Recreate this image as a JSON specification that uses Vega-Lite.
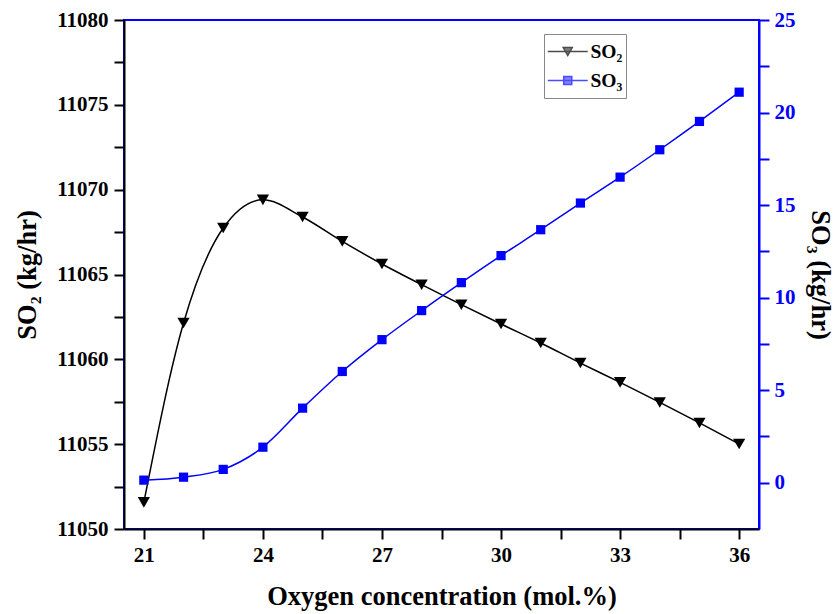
{
  "$schema": "https://vega.github.io/schema/vega-lite/v6.json",
  "width": 635,
  "height": 509,
  "autosize": {"type": "none"},
  "padding": {"left": 124, "top": 20, "right": 76, "bottom": 85},
  "background": "white",
  "config": {
    "view": {"stroke": "#0000ff", "strokeWidth": 2},
    "font": "Liberation Serif",
    "legend": {"symbolBaseFillColor": "black", "symbolBaseStrokeColor": "black"},
    "axis": {
      "labelFont": "Liberation Serif",
      "labelFontWeight": "bold",
      "labelFontSize": 21,
      "titleFont": "Liberation Serif",
      "titleFontWeight": "bold",
      "titleFontSize": 26.5,
      "grid": false,
      "domainWidth": 2,
      "tickWidth": 2,
      "tickSize": 10,
      "labelColor": "black",
      "titleColor": "black",
      "labelOverlap": false
    }
  },
  "datasets": {
    "d": [
      {"x": 21, "series": "SO₂", "value": 11051.57},
      {"x": 22, "series": "SO₂", "value": 11062.14},
      {"x": 23, "series": "SO₂", "value": 11067.74},
      {"x": 24, "series": "SO₂", "value": 11069.40},
      {"x": 25, "series": "SO₂", "value": 11068.39},
      {"x": 26, "series": "SO₂", "value": 11066.95},
      {"x": 27, "series": "SO₂", "value": 11065.62},
      {"x": 28, "series": "SO₂", "value": 11064.40},
      {"x": 29, "series": "SO₂", "value": 11063.22},
      {"x": 30, "series": "SO₂", "value": 11062.08},
      {"x": 31, "series": "SO₂", "value": 11060.96},
      {"x": 32, "series": "SO₂", "value": 11059.78},
      {"x": 33, "series": "SO₂", "value": 11058.64},
      {"x": 34, "series": "SO₂", "value": 11057.46},
      {"x": 35, "series": "SO₂", "value": 11056.25},
      {"x": 36, "series": "SO₂", "value": 11055.01},
      {"x": 21, "series": "SO₃", "value": 0.14},
      {"x": 22, "series": "SO₃", "value": 0.30},
      {"x": 23, "series": "SO₃", "value": 0.72},
      {"x": 24, "series": "SO₃", "value": 1.92},
      {"x": 25, "series": "SO₃", "value": 4.03},
      {"x": 26, "series": "SO₃", "value": 6.01},
      {"x": 27, "series": "SO₃", "value": 7.73},
      {"x": 28, "series": "SO₃", "value": 9.30},
      {"x": 29, "series": "SO₃", "value": 10.81},
      {"x": 30, "series": "SO₃", "value": 12.27},
      {"x": 31, "series": "SO₃", "value": 13.67},
      {"x": 32, "series": "SO₃", "value": 15.11},
      {"x": 33, "series": "SO₃", "value": 16.51},
      {"x": 34, "series": "SO₃", "value": 17.99},
      {"x": 35, "series": "SO₃", "value": 19.52},
      {"x": 36, "series": "SO₃", "value": 21.10}
    ]
  },
  "data": {"name": "d"},
  "layer": [
    {
      "transform": [{"filter": "datum.series === 'SO₂'"}],
      "encoding": {
        "x": {
          "field": "x",
          "type": "quantitative",
          "scale": {"domain": [20.5, 36.5], "nice": false, "zero": false},
          "axis": {
            "title": "Oxygen concentration (mol.%)",
            "values": [21, 22.5, 24, 25.5, 27, 28.5, 30, 31.5, 33, 34.5, 36],
            "labelExpr": "datum.value % 3 === 0 ? datum.label : ''",
            "domainColor": "black",
            "tickColor": "black",
            "labelPadding": 5,
            "titlePadding": 18,
            "encode": {"ticks": {"update": {"y2": {"signal": "datum.value % 3 === 0 ? 10 : 5"}}}}
          }
        },
        "y": {
          "field": "value",
          "type": "quantitative",
          "scale": {"domain": [11050, 11080], "nice": false, "zero": false},
          "axis": {
            "title": "SO₂ (kg/hr)",
            "orient": "left",
            "format": "d",
            "values": [11050, 11052.5, 11055, 11057.5, 11060, 11062.5, 11065, 11067.5, 11070, 11072.5, 11075, 11077.5, 11080],
            "labelExpr": "datum.value % 5 === 0 ? datum.label : ''",
            "domainColor": "black",
            "tickColor": "black",
            "labelPadding": 6,
            "titlePadding": 15,
            "encode": {"ticks": {"update": {"x2": {"signal": "datum.value % 5 === 0 ? -10 : -5"}}}}
          }
        }
      },
      "layer": [
        {"mark": {"type": "line", "color": "black", "strokeWidth": 1.5, "interpolate": "monotone"}},
        {"mark": {"type": "point", "shape": "triangle-down", "filled": true, "color": "black", "opacity": 1, "size": 150}}
      ]
    },
    {
      "transform": [{"filter": "datum.series === 'SO₃'"}],
      "encoding": {
        "x": {"field": "x", "type": "quantitative"},
        "y": {
          "field": "value",
          "type": "quantitative",
          "scale": {"domain": [-2.5, 25], "nice": false, "zero": false},
          "axis": {
            "title": "SO₃ (kg/hr)",
            "orient": "right",
            "values": [0, 2.5, 5, 7.5, 10, 12.5, 15, 17.5, 20, 22.5, 25],
            "labelExpr": "datum.value % 5 === 0 ? datum.label : ''",
            "domainColor": "#0000ff",
            "tickColor": "#0000ff",
            "labelColor": "#0000ff",
            "titleColor": "black",
            "labelPadding": 5,
            "titlePadding": 10,
            "encode": {"ticks": {"update": {"x2": {"signal": "datum.value % 5 === 0 ? 10 : 5"}}}}
          }
        }
      },
      "layer": [
        {"mark": {"type": "line", "color": "#0000ff", "strokeWidth": 1.5, "interpolate": "monotone"}},
        {"mark": {"type": "point", "shape": "square", "filled": true, "color": "#0000ff", "opacity": 1, "size": 85}},
        {
          "transform": [{"filter": "datum.x > 100"}],
          "mark": {"type": "point", "filled": true},
          "encoding": {
            "fill": {
              "field": "series",
              "type": "nominal",
              "scale": {"domain": ["SO₂", "SO₃"], "range": ["black", "#0000ff"]},
              "legend": {
                "title": null, "orient": "none", "legendX": 420, "legendY": 14,
                "fillColor": "white", "strokeColor": "#888888", "padding": 3,
                "labelFont": "Liberation Serif",
                "labelFontWeight": "bold", "labelFontSize": 19.5, "labelColor": "black",
                "symbolSize": 100, "symbolStrokeWidth": 1.5, "symbolOffset": 11, "labelOffset": 13,
                "clipHeight": 29, "rowPadding": 0, "zindex": 2
              }
            },
            "stroke": {
              "field": "series",
              "type": "nominal",
              "scale": {"domain": ["SO₂", "SO₃"], "range": ["black", "#0000ff"]},
              "legend": {
                "title": null, "orient": "none", "legendX": 420, "legendY": 14,
                "fillColor": "white", "strokeColor": "#888888", "padding": 3,
                "labelFont": "Liberation Serif",
                "labelFontWeight": "bold", "labelFontSize": 19.5, "labelColor": "black",
                "symbolSize": 100, "symbolStrokeWidth": 1.5, "symbolOffset": 11, "labelOffset": 13,
                "clipHeight": 29, "rowPadding": 0, "zindex": 2
              }
            },
            "shape": {
              "field": "series",
              "type": "nominal",
              "scale": {"domain": ["SO₂", "SO₃"], "range": ["M-4,0H4M-0.9,-0.8L0.9,-0.8L0,0.8Z", "M-4,0H4M-0.8,-0.8H0.8V0.8H-0.8Z"]},
              "legend": {
                "title": null, "orient": "none", "legendX": 420, "legendY": 14,
                "fillColor": "white", "strokeColor": "#888888", "padding": 3,
                "labelFont": "Liberation Serif",
                "labelFontWeight": "bold", "labelFontSize": 19.5, "labelColor": "black",
                "symbolSize": 100, "symbolStrokeWidth": 1.5, "symbolOffset": 11, "labelOffset": 13,
                "clipHeight": 29, "rowPadding": 0, "zindex": 2
              }
            },
            "size": {
              "field": "series",
              "type": "ordinal",
              "scale": {"domain": ["s"], "range": [4]},
              "legend": {
                "title": null, "orient": "none", "legendX": 427, "legendY": 21,
                "padding": 0,
                "labelExpr": "''",
                "symbolType": "M-43,-32.5H43V32.5H-43Z",
                "symbolFillColor": "black",
                "symbolStrokeColor": "black",
                "symbolOpacity": 1,
                "symbolStrokeWidth": 0,
                "symbolOffset": 38,
                "clipHeight": 65,
                "zindex": 1
              }
            }
          }
        }
      ]
    }
  ],
  "resolve": {"scale": {"y": "independent"}}
}
